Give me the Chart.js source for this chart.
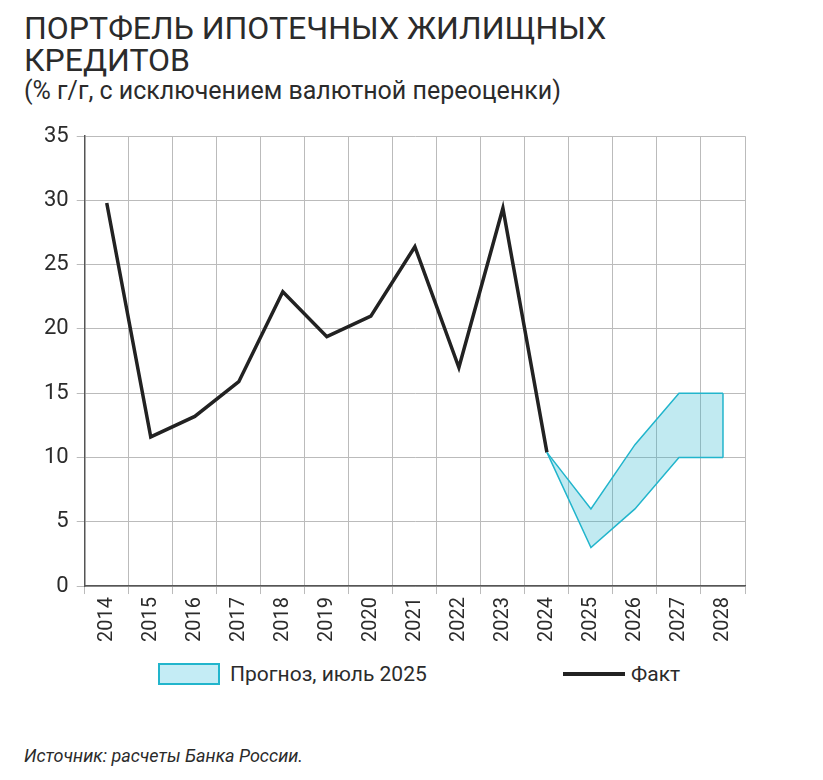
<!DOCTYPE html>
<html><head><meta charset="utf-8">
<script src="https://cdn.jsdelivr.net/npm/chart.js@4"></script>
<style>
  body { margin:0; background:#fff; font-family:"Roboto","Noto Sans",sans-serif; color:#2b2b2b; }
  #title { position:absolute; left:24px; top:12px; font-size:32px; line-height:32px; }
  #sub { position:absolute; left:24px; top:76px; font-size:25px; }
  #wrap { position:absolute; left:0; top:115px; width:760px; height:530px; }
  .leg { position:absolute; top:662px; font-size:21px; display:flex; align-items:center; }
  #src { position:absolute; left:24px; top:745px; font-size:18px; font-style:italic; }
</style></head><body>
<div id="title">ПОРТФЕЛЬ ИПОТЕЧНЫХ ЖИЛИЩНЫХ<br>КРЕДИТОВ</div>
<div id="sub">(% г/г, с исключением валютной переоценки)</div>
<div id="wrap"><canvas id="c"></canvas></div>
<div class="leg" style="left:158px"><span style="display:inline-block;width:58px;height:18px;background:#c4ecf5;border:2px solid #22b5cc;margin-right:10px"></span>Прогноз, июль 2025</div>
<div class="leg" style="left:563px"><span style="display:inline-block;width:62px;height:4px;background:#222;margin-right:6px"></span>Факт</div>
<div id="src">Источник: расчеты Банка России.</div>
<script>
var years = ['2014','2015','2016','2017','2018','2019','2020','2021','2022','2023','2024','2025','2026','2027','2028'];
var fact = [29.8, 11.6, 13.2, 15.9, 22.9, 19.4, 21.0, 26.4, 17.0, 29.4, 10.4, null, null, null, null];
var forecastHigh = [null, null, null, null, null, null, null, null, null, null, 10.4, 6, 11, 15, 15];
var forecastLow = [null, null, null, null, null, null, null, null, null, null, 10.4, 3, 6, 10, 10];
var bandEdge = [{x:'2028', y:10}, {x:'2028', y:15}];

var cyan = '#22b5cc';
new Chart(document.getElementById('c'), {
  type: 'line',
  data: {
    labels: years,
    datasets: [
      { data: forecastLow, borderColor: cyan, borderWidth: 1.5, pointRadius: 0, fill: false },
      { data: forecastHigh, borderColor: cyan, borderWidth: 1.5, pointRadius: 0, fill: '-1', backgroundColor: 'rgba(34,181,204,0.28)' },
      { data: bandEdge, borderColor: cyan, borderWidth: 1.5, pointRadius: 0, fill: false },
      { data: fact, borderColor: '#222', borderWidth: 3.5, pointRadius: 0, fill: false }
    ]
  },
  options: {
    responsive: true, maintainAspectRatio: false, animation: false,
    layout: { padding: { left: 36, right: 15, top: 8, bottom: 0 } },
    plugins: { legend: { display: false }, tooltip: { enabled: false } },
    scales: {
      x: {
        offset: true,
        grid: { offset: true, color: '#bbb', tickLength: 8 },
        border: { color: '#555', width: 1.5 },
        ticks: { maxRotation: 90, minRotation: 90, color: '#2b2b2b', font: { size: 20, family: 'Roboto' } }
      },
      y: {
        min: 0, max: 35,
        grid: { color: '#bbb', tickLength: 8 },
        border: { color: '#555', width: 1.5 },
        ticks: { stepSize: 5, color: '#2b2b2b', font: { size: 22, family: 'Roboto' }, padding: 8 }
      }
    }
  }
});
</script>
</body></html>
